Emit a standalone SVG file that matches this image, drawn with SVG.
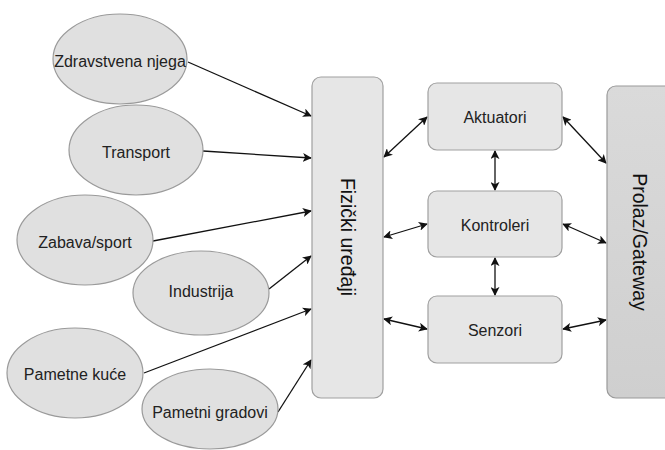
<svg xmlns="http://www.w3.org/2000/svg" width="665" height="450" viewBox="0 0 665 450">
  <style>
    .ell { fill: #e0e0e0; stroke: #9a9a9a; stroke-width: 1.2; }
    .box { fill: #e6e6e6; stroke: #a0a0a0; stroke-width: 1.2; }
    .gw { fill: url(#gwFill); stroke: #9a9a9a; stroke-width: 1.2; }
    .lbl { font-family: "Liberation Sans", Arial, sans-serif; font-size: 16px; fill: #222; text-anchor: middle; dominant-baseline: central; }
    .vlbl { font-family: "Liberation Sans", Arial, sans-serif; font-size: 19.5px; fill: #111; text-anchor: middle; dominant-baseline: central; }
    .con { stroke: #111; stroke-width: 1.3; fill: none; }
    .uni { marker-end: url(#ah); }
    .bi { marker-start: url(#ahs); marker-end: url(#ah); }
  </style>
  <defs>
    <linearGradient id="gwFill" x1="0" y1="0" x2="0" y2="1">
      <stop offset="0" stop-color="#dadada"/>
      <stop offset="1" stop-color="#cfcfcf"/>
    </linearGradient>
    <marker id="ah" viewBox="0 0 10 10" refX="9" refY="5" markerWidth="9" markerHeight="9" markerUnits="userSpaceOnUse" orient="auto">
      <path d="M0,0 L10,5 L0,10 L2.5,5 Z" fill="#111"/>
    </marker>
    <marker id="ahs" viewBox="0 0 10 10" refX="1" refY="5" markerWidth="9" markerHeight="9" markerUnits="userSpaceOnUse" orient="auto">
      <path d="M10,0 L0,5 L10,10 L7.5,5 Z" fill="#111"/>
    </marker>
  </defs>

  <rect width="665" height="450" fill="#ffffff"/>

  <!-- connectors -->
  <g id="connectors">
    <line class="con uni" x1="188" y1="62" x2="311" y2="116"/>
    <line class="con uni" x1="203" y1="151" x2="311" y2="158"/>
    <line class="con uni" x1="153" y1="241" x2="311" y2="211"/>
    <line class="con uni" x1="269" y1="289" x2="311" y2="256"/>
    <line class="con uni" x1="144" y1="373" x2="311" y2="309"/>
    <line class="con uni" x1="278" y1="412" x2="311" y2="360"/>

    <line class="con bi" x1="384" y1="157" x2="427" y2="117"/>
    <line class="con bi" x1="384" y1="237" x2="427" y2="224"/>
    <line class="con bi" x1="384" y1="319" x2="427" y2="329"/>

    <line class="con bi" x1="495" y1="151" x2="495" y2="190"/>
    <line class="con bi" x1="495" y1="258" x2="495" y2="295"/>

    <line class="con bi" x1="563" y1="117" x2="606" y2="163"/>
    <line class="con bi" x1="563" y1="224" x2="606" y2="243"/>
    <line class="con bi" x1="563" y1="329" x2="606" y2="320"/>
  </g>

  <!-- application domains -->
  <g id="zdravstvena-njega">
    <ellipse class="ell" cx="120" cy="59" rx="67" ry="45"/>
    <text class="lbl" x="120" y="61">Zdravstvena njega</text>
  </g>
  <g id="transport">
    <ellipse class="ell" cx="136" cy="150" rx="67" ry="45"/>
    <text class="lbl" x="136" y="152">Transport</text>
  </g>
  <g id="zabava-sport">
    <ellipse class="ell" cx="85" cy="240" rx="68" ry="45"/>
    <text class="lbl" x="85" y="242">Zabava/sport</text>
  </g>
  <g id="industrija">
    <ellipse class="ell" cx="201" cy="293" rx="68" ry="42"/>
    <text class="lbl" x="201" y="291">Industrija</text>
  </g>
  <g id="pametne-kuce">
    <ellipse class="ell" cx="75" cy="373" rx="68" ry="45"/>
    <text class="lbl" x="75" y="374">Pametne kuće</text>
  </g>
  <g id="pametni-gradovi">
    <ellipse class="ell" cx="210" cy="409" rx="68" ry="40"/>
    <text class="lbl" x="210" y="412">Pametni gradovi</text>
  </g>

  <!-- physical devices column -->
  <g id="fizicki-uredaji">
    <rect class="box" x="312" y="77" width="71" height="321" rx="9"/>
    <text class="vlbl" transform="translate(347.5,237) rotate(90)">Fizički uređaji</text>
  </g>

  <!-- device layers -->
  <g id="aktuatori">
    <rect class="box" x="428" y="83" width="134" height="67" rx="9"/>
    <text class="lbl" x="495" y="117">Aktuatori</text>
  </g>
  <g id="kontroleri">
    <rect class="box" x="428" y="191" width="134" height="66" rx="9"/>
    <text class="lbl" x="495" y="225">Kontroleri</text>
  </g>
  <g id="senzori">
    <rect class="box" x="428" y="296" width="134" height="67" rx="9"/>
    <text class="lbl" x="495" y="330">Senzori</text>
  </g>

  <!-- gateway column -->
  <g id="gateway">
    <rect class="gw" x="607" y="86" width="72" height="312" rx="9"/>
    <text class="vlbl" transform="translate(640,242) rotate(90)">Prolaz/Gateway</text>
  </g>
</svg>
